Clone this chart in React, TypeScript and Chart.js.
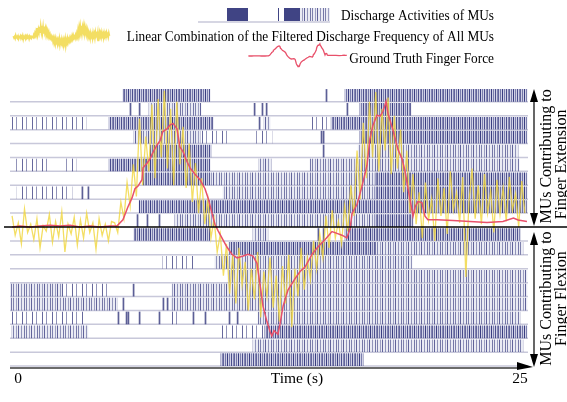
import React, { useEffect, useRef } from 'react';
import { Chart, registerables } from 'chart.js';
Chart.register(...registerables);

// ---------------- data ----------------
const T_MIN = 0;
const T_MAX = 25;
const X_TICK_LABELS = ['0', '25'];
const X_TITLE = 'Time (s)';
const ROWS_PER_GROUP = 10;
const EXT_LABEL = ['MUs Contributing to', 'Finger Extension'];
const FLEX_LABEL = ['MUs Contributing to', 'Finger Flexion'];
const LEGEND_TEXT = [
  'Discharge Activities of MUs',
  'Linear Combination of the Filtered Discharge Frequency of All MUs',
  'Ground Truth Finger Force',
];

// bursts of discharges per MU row: [start s, end s, density level 1..3]
type Seg = [number, number, number];
const EXT_BURSTS: Seg[][] = [
  [[5.45, 9.65, 3], [16.17, 24.95, 3]],
  [[6.71, 9.22, 2], [16.89, 19.35, 3]],
  [[0.05, 3.67, 1], [4.78, 9.8, 3], [12.26, 12.55, 2], [14.38, 15.5, 1], [15.5, 24.95, 3]],
  [[5.98, 9.17, 2], [9.17, 10.57, 1], [11.82, 12.64, 1], [16.89, 24.95, 3]],
  [[6.76, 9.7, 3], [16.8, 24.52, 2]],
  [[0.19, 1.93, 1], [2.65, 3.19, 1], [4.78, 9.65, 3], [12.02, 12.6, 2], [14.48, 24.57, 2]],
  [[6.42, 9.65, 3], [9.65, 17.62, 2], [17.62, 24.95, 3]],
  [[0.34, 2.99, 1], [10.28, 17.6, 2], [17.6, 24.95, 3]],
  [[6.23, 24.95, 3]],
  [[7.96, 17.6, 2], [17.6, 19.45, 3]],
];
const EXT_SINGLE_SPIKES: number[][] = [
  [15.25],
  [5.79, 6.23, 11.78, 12.16, 12.36, 16.26],
  [12.02],
  [15.01, 15.11],
  [15.11],
  [],
  [],
  [3.47, 3.76],
  [],
  [6.13, 6.61, 7.19],
];
const FLEX_BURSTS: Seg[][] = [
  [[5.98, 9.65, 3], [11.73, 12.45, 2], [16.17, 24.61, 3]],
  [[10.57, 17.6, 3], [17.6, 24.76, 2]],
  [[7.38, 8.93, 1], [9.89, 19.4, 2]],
  [[10.52, 24.95, 2]],
  [[0.0, 2.51, 2], [2.51, 4.83, 1], [7.82, 24.95, 2]],
  [[0.0, 5.16, 2], [7.77, 24.95, 2]],
  [[0.05, 3.57, 1], [7.82, 8.2, 1], [11.97, 24.61, 2]],
  [[0.1, 3.76, 2], [10.18, 12.3, 1], [12.3, 24.95, 3]],
  [[11.73, 24.76, 2]],
  [[10.18, 17.04, 3]],
];
const FLEX_SINGLE_SPIKES: number[][] = [
  [14.86, 15.11],
  [],
  [],
  [],
  [5.94],
  [5.45, 7.38, 7.58],
  [5.21, 5.6, 5.69, 6.23, 7.19, 8.83, 9.41, 10.57, 10.96],
  [],
  [],
  [],
];

// ground truth finger force (row units, + = extension)
const FORCE_T = [
  0.1, 0.48, 0.97, 1.45, 1.93, 2.41, 2.9, 3.38, 3.86, 4.34, 4.83, 5.16, 5.45, 5.69, 5.89, 6.03, 6.18, 6.37,
  6.42, 6.61, 6.76, 6.9, 7.09, 7.24, 7.38, 7.58, 7.72, 7.87, 8.06, 8.2, 8.35, 8.54, 8.69, 8.93, 9.17, 9.41,
  9.56, 9.75, 9.89, 10.04, 10.28, 10.47, 10.71, 10.96, 11.25, 11.49, 11.73, 11.92, 12.07, 12.21, 12.4, 12.55,
  12.64, 12.74, 12.93, 13.03, 13.18, 13.42, 13.75, 14.0, 14.24, 14.58, 14.86, 15.2, 15.54, 15.78, 16.02, 16.26,
  16.41, 16.51, 16.75, 16.99, 17.23, 17.37, 17.52, 17.71, 17.86, 18.0, 18.15, 18.24, 18.44, 18.58, 18.73,
  18.92, 19.06, 19.21, 19.35, 19.45, 19.55, 19.69, 19.88, 20.03, 20.17, 20.61, 21.38, 22.2, 23.02, 23.79,
  24.3, 24.52, 24.95,
];
const FORCE_V = [
  0, 0.07, 0, 0.07, 0.13, 0.07, 0.13, 0, 0.07, 0, 0.07, 0.07, 0.52, 1.44, 2.09, 2.75, 2.94, 3.4,
  4.25, 4.58, 4.9, 5.36, 5.88, 6.21, 6.86, 7.06, 7.32, 7.45, 7.06, 5.75, 5.42, 4.71, 4.25, 3.79, 3.4, 2.75,
  2.09, 0.98, 0.2, -0.26, -0.92, -1.44, -1.96, -2.22, -2.09, -1.96, -2.09, -2.61, -4.18, -5.69, -6.8, -7.52,
  -7.84, -7.45, -7.71, -6.99, -5.69, -4.51, -3.73, -3.2, -2.88, -1.96, -1.44, -0.92, -0.33, -0.46, -0.59, -0.78,
  -0.13, 0.98, 1.63, 2.94, 4.44, 6.34, 7.32, 8.04, 7.97, 8.3, 9.02, 8.17, 7.19, 6.41, 5.56,
  4.9, 4.05, 2.75, 1.63, 0.78, 1.44, 1.83, 1.76, 0.78, 0.52, 0.52, 0.46, 0.39, 0.33, 0.39,
  0.65, 0.5, 0.4,
];

// linear combination of filtered discharge frequency (sampled every DECODED_DT s)
const DECODED_T0 = 0.1;
const DECODED_DT = 0.15;
const DECODED_V = [
  0.8, -0.6, 0.3, -1.2, 1.3, -0.4, 0.2, -0.9, 0.6, -1.5, 0.1, -0.3, 0.9, -1.1, 0.4, -0.7, 1.1, -1.8, 0.2, -0.5,
  0.7, -1.3, 0.5, -0.8, 1.0, -0.4, 0.3, -1.6, 0.6, -0.6, 0.2, -1.0, 0.4,
  0.3, -0.4, 1.8, 0.6, 3.2, 1.5, 4.5, 2.2, 7.8, 3.0, 6.5, 4.0, 8.8, 3.5, 9.2, 5.0, 9.8, 4.2, 8.5, 3.0, 9.0, 4.5,
  7.2, 2.8, 6.0, 1.8, 4.6, 1.0, 3.5, 0.2, 2.0, -0.8, 0.6, -1.8,
  -0.5, -3.5, -1.2, -4.8, -2.0, -5.5, -1.5, -4.2, -2.5, -6.0, -3.0, -5.2, -1.8, -6.5, -3.2, -5.0, -2.2, -5.8,
  -3.5, -6.8, -2.8, -5.5, -2.0, -7.2, -3.0, -5.0, -1.5, -4.5, -2.2, -3.8, -1.0, -3.0, -0.5, -2.2,
  0.8, -1.5, 1.2, -0.8, 0.4, -1.2, 1.5, -0.3, 3.0, 0.8, 5.5, 2.0, 7.5, 3.5, 9.0, 5.0, 9.7, 4.0, 8.5, 5.5,
  9.3, 3.8, 8.0, 4.2, 7.0, 2.5, 5.5, 1.0, 3.8, 0.2, 2.5, -0.8,
  3.2, 0.5, 2.0, -1.0, 3.5, 0.8, 2.8, -0.5, 4.0, 1.2, 2.5, 0.3, 3.6, -3.6, 1.8, 4.2, 0.6, 3.0, 0.2, 3.8,
  1.0, 2.6, -0.4, 3.4, 0.9, 2.8, 0.4, 3.6, 1.2, 2.4, 0.0, 3.3, 1.0,
];

// ---------------- styles ----------------
const FONT = '"Liberation Serif", "Times New Roman", serif';
const SPIKE_RGB = '38,42,115';
const ROW_LINE = '#c8c8da';
const YELLOW = 'rgba(240,214,60,0.8)';
const RED = '#e8506a';
const BAR_H = 12;
const BAR_OFFSET = 0.46;
const SPIKE_W = 0.05;
const PATTERN_DEF: Record<number, { w: number; bg: string | null; lines: [number, number][] }> = {
  1: { w: 10, bg: null, lines: [[2, 0.7], [6, 0.5]] },
  2: { w: 13, bg: 'rgba(180,183,215,0.28)', lines: [[0, 0.55], [3, 0.4], [5, 0.7], [8, 0.45], [11, 0.6]] },
  3: { w: 11, bg: 'rgba(145,148,195,0.42)', lines: [[0, 0.78], [2, 0.45], [3, 0.65], [5, 0.55], [7, 0.88], [9, 0.5]] },
};

const extRowY = (i: number) => ROWS_PER_GROUP - 1 - i + BAR_OFFSET;
const flexRowY = (j: number) => -(j + 1) + BAR_OFFSET;

function burstData(level: number) {
  const out: { x: [number, number]; y: number }[] = [];
  EXT_BURSTS.forEach((row, i) => row.forEach(([a, b, l]) => { if (l === level) out.push({ x: [a, b], y: extRowY(i) }); }));
  FLEX_BURSTS.forEach((row, j) => row.forEach(([a, b, l]) => { if (l === level) out.push({ x: [a, b], y: flexRowY(j) }); }));
  return out;
}
function singleData() {
  const out: { x: [number, number]; y: number }[] = [];
  EXT_SINGLE_SPIKES.forEach((row, i) => row.forEach((t) => out.push({ x: [t, t + SPIKE_W], y: extRowY(i) })));
  FLEX_SINGLE_SPIKES.forEach((row, j) => row.forEach((t) => out.push({ x: [t, t + SPIKE_W], y: flexRowY(j) })));
  return out;
}

function makePattern(ctx: CanvasRenderingContext2D, level: number) {
  const d = PATTERN_DEF[level];
  const c = document.createElement('canvas');
  c.width = d.w;
  c.height = 16;
  const g = c.getContext('2d')!;
  if (d.bg) { g.fillStyle = d.bg; g.fillRect(0, 0, d.w, 16); }
  for (const [x, a] of d.lines) { g.fillStyle = `rgba(${SPIKE_RGB},${a})`; g.fillRect(x, 0, 1, 16); }
  return ctx.createPattern(c, 'repeat')!;
}

function tri(ctx: CanvasRenderingContext2D, pts: number[]) {
  ctx.beginPath();
  ctx.moveTo(pts[0], pts[1]);
  ctx.lineTo(pts[2], pts[3]);
  ctx.lineTo(pts[4], pts[5]);
  ctx.closePath();
  ctx.fill();
}

function vArrow(ctx: CanvasRenderingContext2D, x: number, top: number, bot: number) {
  ctx.beginPath();
  ctx.moveTo(x, top + 8);
  ctx.lineTo(x, bot - 8);
  ctx.stroke();
  tri(ctx, [x, top, x - 4, top + 13, x + 4, top + 13]);
  tri(ctx, [x, bot, x - 4, bot - 13, x + 4, bot - 13]);
}

export default function App() {
  const ref = useRef<HTMLCanvasElement>(null);
  useEffect(() => {
    const canvas = ref.current!;
    const c2d = canvas.getContext('2d')!;
    const pats: Record<number, CanvasPattern> = { 1: makePattern(c2d, 1), 2: makePattern(c2d, 2), 3: makePattern(c2d, 3) };

    const decor = {
      id: 'decor',
      beforeDatasetsDraw(chart: any) {
        const { ctx } = chart;
        const x = chart.scales.x, y = chart.scales.y;
        const x0 = x.getPixelForValue(T_MIN), x1 = x.getPixelForValue(T_MAX);
        ctx.save();
        ctx.strokeStyle = ROW_LINE;
        ctx.lineWidth = 1.5;
        for (let k = 1; k <= ROWS_PER_GROUP; k++) {
          const vals = k < ROWS_PER_GROUP ? [k, -k] : [-k];
          for (const v of vals) {
            const py = y.getPixelForValue(v);
            ctx.beginPath();
            ctx.moveTo(x0, py);
            ctx.lineTo(x1, py);
            ctx.stroke();
          }
        }
        ctx.restore();
      },
      afterDatasetsDraw(chart: any) {
        const { ctx } = chart;
        const x = chart.scales.x, y = chart.scales.y;
        const x0 = x.getPixelForValue(T_MIN), x1 = x.getPixelForValue(T_MAX);
        const yZero = y.getPixelForValue(0);
        const yTop = y.getPixelForValue(ROWS_PER_GROUP);
        const yBot = y.getPixelForValue(-ROWS_PER_GROUP);
        ctx.save();
        // zero line
        ctx.strokeStyle = '#000';
        ctx.lineWidth = 1.5;
        ctx.beginPath();
        ctx.moveTo(4, yZero);
        ctx.lineTo(chart.width, yZero);
        ctx.stroke();
        // x axis
        ctx.strokeStyle = '#6b6b6b';
        ctx.lineWidth = 2;
        ctx.beginPath();
        ctx.moveTo(x0, yBot + 2);
        ctx.lineTo(x1 - 6, yBot + 2);
        ctx.stroke();
        ctx.fillStyle = '#000';
        tri(ctx, [x1 + 5, yBot + 1, x1 - 11, yBot - 4, x1 - 11, yBot + 4]);
        // vertical arrows
        ctx.strokeStyle = '#000';
        ctx.lineWidth = 1.2;
        const ax = x1 + 6;
        vArrow(ctx, ax, yTop + 1, yZero - 1);
        vArrow(ctx, ax, yZero + 5, yBot + 1);
        // rotated labels
        ctx.font = `16px ${FONT}`;
        ctx.textAlign = 'center';
        ctx.textBaseline = 'middle';
        const rot = (text: string, cx: number, cy: number) => {
          ctx.save();
          ctx.translate(cx, cy);
          ctx.rotate(-Math.PI / 2);
          ctx.fillText(text, 0, 0);
          ctx.restore();
        };
        const yExt = (yTop + yZero) / 2;
        const yFlex = (yZero + yBot) / 2;
        rot(EXT_LABEL[0], ax + 13, yExt - 1);
        rot(EXT_LABEL[1], ax + 28, yExt + 7);
        rot(FLEX_LABEL[0], ax + 13, yFlex + 2);
        rot(FLEX_LABEL[1], ax + 28, yFlex + 2);
        // tick labels & title
        ctx.font = `15.5px ${FONT}`;
        ctx.textBaseline = 'alphabetic';
        ctx.fillText(X_TICK_LABELS[0], x0 + 8, yBot + 17);
        ctx.fillText(X_TICK_LABELS[1], x1 - 8, yBot + 17);
        ctx.fillText(X_TITLE, (x0 + x1) / 2 + 28, yBot + 17);

        // ---- legend ----
        ctx.font = `15.5px ${FONT}`;
        ctx.textAlign = 'right';
        const txt = (s: string, rx: number, by: number) => {
          ctx.save();
          ctx.translate(rx, by);
          ctx.scale(0.858, 1);
          ctx.fillText(s, 0, 0);
          ctx.restore();
        };
        txt(LEGEND_TEXT[0], 494, 20);
        txt(LEGEND_TEXT[1], 494, 41);
        txt(LEGEND_TEXT[2], 494, 63);
        // spike glyph
        ctx.strokeStyle = ROW_LINE;
        ctx.lineWidth = 1.5;
        ctx.beginPath();
        ctx.moveTo(198, 22);
        ctx.lineTo(330, 22);
        ctx.stroke();
        ctx.fillStyle = `rgba(${SPIKE_RGB},0.88)`;
        ctx.fillRect(227, 8, 20, 13);
        ctx.fillRect(247, 8, 1, 13);
        ctx.fillRect(278, 8, 1, 13);
        ctx.fillRect(284, 8, 16, 13);
        ctx.fillStyle = pats[2];
        ctx.fillRect(300, 8, 30, 13);
        // yellow glyph from the decoded signal
        const gx = (t: number, l: number, w: number) => l + ((t - T_MIN) / (T_MAX - T_MIN)) * w;
        ctx.strokeStyle = YELLOW;
        ctx.lineWidth = 1.8;
        ctx.beginPath();
        DECODED_V.forEach((v, i) => {
          const px = gx(DECODED_T0 + i * DECODED_DT, 13, 97);
          const py = 37 - v * 1.15;
          if (i === 0) ctx.moveTo(px, py); else ctx.lineTo(px, py);
        });
        ctx.stroke();
        // red glyph from the force
        ctx.strokeStyle = RED;
        ctx.lineWidth = 1.3;
        ctx.beginPath();
        FORCE_V.forEach((v, i) => {
          const px = gx(FORCE_T[i], 248, 99);
          const py = 56 - v * 1.35;
          if (i === 0) ctx.moveTo(px, py); else ctx.lineTo(px, py);
        });
        ctx.stroke();
        ctx.restore();
      },
    };

    const barCommon = {
      type: 'bar' as const,
      indexAxis: 'y' as const,
      grouped: false,
      barThickness: BAR_H,
      borderWidth: 0,
      order: 5,
    };

    const chart = new Chart(canvas, {
      type: 'line',
      data: {
        datasets: [
          {
            type: 'line',
            label: 'force',
            data: FORCE_T.map((t, i) => ({ x: t, y: FORCE_V[i] })),
            borderColor: RED,
            borderWidth: 1.5,
            pointRadius: 0,
            tension: 0,
            order: 0,
          } as any,
          {
            type: 'line',
            label: 'decoded',
            data: DECODED_V.map((v, i) => ({ x: DECODED_T0 + i * DECODED_DT, y: v })),
            borderColor: YELLOW,
            borderWidth: 1.3,
            pointRadius: 0,
            tension: 0,
            order: 1,
          } as any,
          { ...barCommon, label: 'single', data: singleData(), backgroundColor: `rgba(${SPIKE_RGB},0.75)` } as any,
          { ...barCommon, label: 'sparse', data: burstData(1), backgroundColor: pats[1] } as any,
          { ...barCommon, label: 'medium', data: burstData(2), backgroundColor: pats[2] } as any,
          { ...barCommon, label: 'dense', data: burstData(3), backgroundColor: pats[3] } as any,
        ],
      },
      options: {
        responsive: false,
        animation: false,
        devicePixelRatio: 1,
        layout: { padding: { left: 10, right: 39, top: 74, bottom: 22 } },
        scales: {
          x: { type: 'linear', min: T_MIN, max: T_MAX, display: false },
          y: { type: 'linear', min: -ROWS_PER_GROUP, max: ROWS_PER_GROUP, display: false },
        },
        plugins: { legend: { display: false }, tooltip: { enabled: false } },
      },
      plugins: [decor],
    } as any);
    return () => chart.destroy();
  }, []);
  return (
    <div style={{ position: 'fixed', left: 0, top: 0, width: 567, height: 402, background: '#fff' }}>
      <canvas ref={ref} width={567} height={402} style={{ display: 'block' }} />
    </div>
  );
}
